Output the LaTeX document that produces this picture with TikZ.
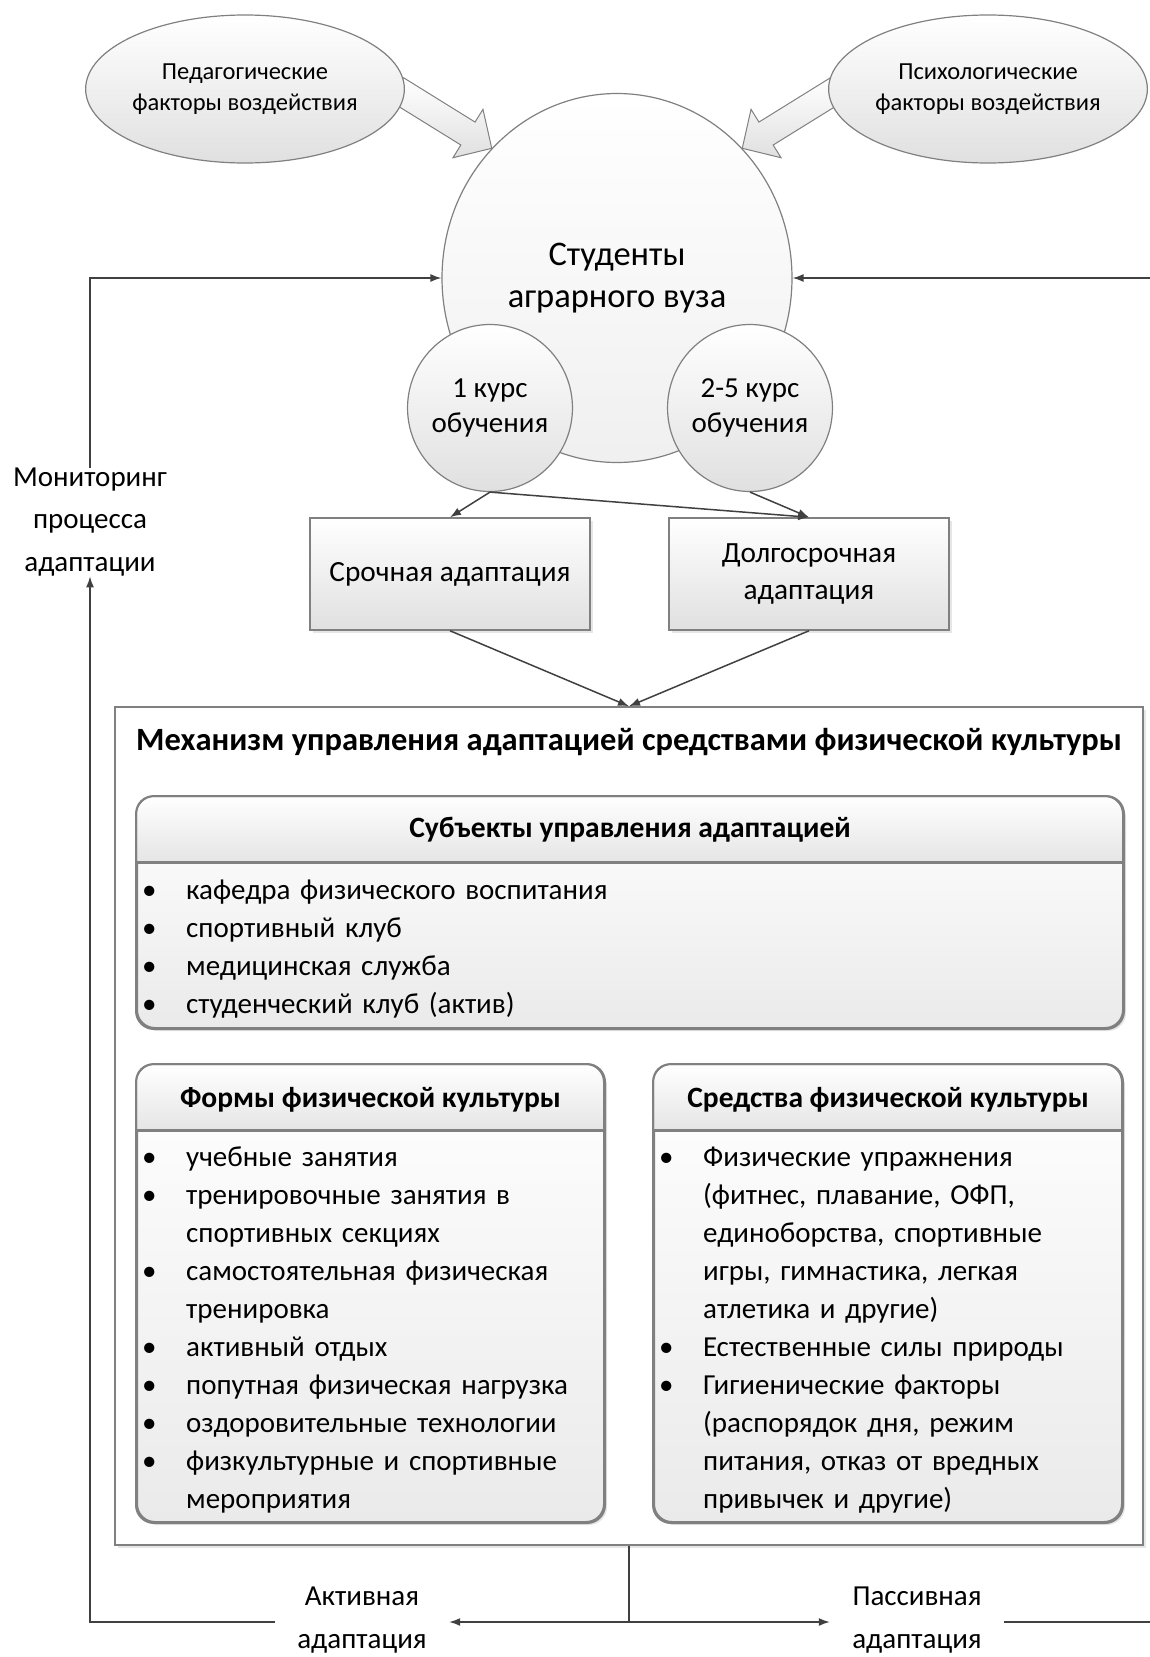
\documentclass[tikz,border=0pt]{standalone}
\usepackage{fontspec}
\setmainfont{Carlito}
\usepackage{tikz}
\tikzset{node distance=3cm and 5cm, auto}
\usetikzlibrary{arrows.meta,shapes,shadows,backgrounds}
\usepackage{xcolor}
\definecolor{linecol}{HTML}{404040}
\definecolor{framecol}{HTML}{808080}
\definecolor{lightcol}{HTML}{E0E0E0}
\definecolor{headcol}{HTML}{D6D6D6}
\definecolor{bodycol}{HTML}{EAEAEA}
\tikzset{
  softshadow/.style={drop shadow={opacity=0.2, shadow xshift=3pt, shadow yshift=-3pt}},
  oval/.style={ellipse, draw=framecol, line width=1.2pt, top color=white, bottom color=lightcol, align=center, inner sep=0pt},
  conn/.style={draw=linecol, line width=1.5pt},
  tip/.style={-{Latex[length=11pt,width=8pt]}},
  fatarrow/.style={draw=framecol, line width=1pt, top color=white, bottom color=lightcol},
  listbox/.style={rectangle, rounded corners=18pt, draw=framecol, line width=2pt, top color=white, bottom color=bodycol, softshadow, inner sep=0pt},
  listframe/.style={draw=framecol, line width=2pt, rounded corners=18pt},
  listtext/.style={anchor=north west, inner sep=0pt, text width=470pt, align=left, font=\fontsize{29}{38}\selectfont},
  caption/.style={font=\bfseries\fontsize{29.5}{37}\selectfont, inner sep=0pt},
  loosetext/.style={align=center, inner sep=0pt, font=\fontsize{29}{43}\selectfont}
}
\newcommand{\adoval}[3]{node[oval,#1](#2) {#3}}
\newcommand{\adbox}[2]{node[rectangle, draw=framecol, line width=1.5pt, top color=white, bottom color=lightcol, softshadow, minimum width=280pt, minimum height=112pt, align=center, font=\fontsize{29.3}{37}\selectfont](#1) {#2}}
\newcommand{\itm}[1]{\par\noindent\hangindent=44pt\hangafter=1\makebox[44pt][l]{\textbullet}\strut#1}

\begin{document}
\begin{tikzpicture}[x=1pt,y=-1pt]
\useasboundingbox (0,0) rectangle (1150,1657);

% factors and students
\draw (245,89) \adoval{minimum width=298pt, minimum height=148pt, font=\fontsize{24.5}{31}\selectfont}{pedag}{Педагогические\\факторы воздействия} ;
\draw (988,89) \adoval{minimum width=298pt, minimum height=148pt, font=\fontsize{24.5}{31}\selectfont}{psych}{Психологические\\факторы воздействия} ;
\draw (617,278) \adoval{minimum width=350pt, minimum height=369pt, bottom color=gray!12, font=\fontsize{34.5}{42}\selectfont}{stud}{Студенты\\аграрного вуза} ;
\draw (490,408) \adoval{minimum width=160pt, minimum height=167pt, font=\fontsize{29}{35}\selectfont}{first}{1 курс\\обучения} ;
\draw (750,408) \adoval{minimum width=160pt, minimum height=167pt, font=\fontsize{29}{35}\selectfont}{senior}{2-5 курс\\обучения} ;

\begin{scope}[on background layer]
\begin{scope}[shift={(stud.134)}, rotate=-31.8]
  \path[fatarrow] (0,0) -- (-28,-28.5) -- (-28,-13.5) -- (-112,-13.5) -- (-112,13.5) -- (-28,13.5) -- (-28,28.5) -- cycle;
\end{scope}
\begin{scope}[shift={(stud.46)}, rotate=-148.2]
  \path[fatarrow] (0,0) -- (-28,-28.5) -- (-28,-13.5) -- (-112,-13.5) -- (-112,13.5) -- (-28,13.5) -- (-28,28.5) -- cycle;
\end{scope}
\end{scope}

% kinds of adaptation
\draw (450,574) \adbox{urgent}{Срочная адаптация} ;
\draw (809,574) \adbox{longterm}{Долгосрочная\\адаптация} ;
\draw[conn,tip] (first.south) -- (urgent.north) ;
\draw[conn,tip] (first.south) -- (longterm.north) ;
\draw[conn,tip] (senior.south) -- (longterm.north) ;

% mechanism
\draw (629,1126) node[rectangle, draw=framecol, line width=1.5pt, fill=white, softshadow, minimum width=1028pt, minimum height=838pt](mech) {} ;
\draw[conn,tip] (urgent.south) -- (mech.north) ;
\draw[conn,tip] (longterm.south) -- (mech.north) ;
\draw (629,742) node[caption, font=\bfseries\fontsize{32.5}{37}\selectfont](mechtitle) {Механизм управления адаптацией средствами физической культуры} ;

% subjects
\draw (630,912.5) node[listbox, minimum width=986pt, minimum height=231pt](subj) {} ;
\begin{scope}
  \clip (137,797) rectangle (1123,862);
  \path[listframe, top color=white, bottom color=headcol] (subj.north west) rectangle (1123,900);
\end{scope}
\draw[listframe] (subj.north west) rectangle (subj.south east) ;
\draw[framecol, line width=3pt] (137,862) -- (1123,862) ;
\draw (630,830) node[caption](subjtitle) {Субъекты управления адаптацией} ;
\draw (142,861) node[listtext](subjlist) {\itm{кафедра физического воспитания}\itm{спортивный клуб}\itm{медицинская служба}\itm{студенческий клуб (актив)}\par} ;

% forms
\draw (370.5,1293.5) node[listbox, minimum width=467pt, minimum height=457pt](forms) {} ;
\begin{scope}
  \clip (137,1065) rectangle (604,1130);
  \path[listframe, top color=white, bottom color=headcol] (forms.north west) rectangle (604,1170);
\end{scope}
\draw[listframe] (forms.north west) rectangle (forms.south east) ;
\draw[framecol, line width=3pt] (137,1130) -- (604,1130) ;
\draw (370.5,1100) node[caption](formstitle) {Формы физической культуры} ;
\draw (142,1128) node[listtext](formslist) {\itm{учебные занятия}\itm{тренировочные занятия в\newline спортивных секциях}\itm{самостоятельная физическая\newline тренировка}\itm{активный отдых}\itm{попутная физическая нагрузка}\itm{оздоровительные технологии}\itm{физкультурные и спортивные\newline мероприятия}\par} ;

% means
\draw (888,1293.5) node[listbox, minimum width=468pt, minimum height=457pt](means) {} ;
\begin{scope}
  \clip (654,1065) rectangle (1122,1130);
  \path[listframe, top color=white, bottom color=headcol] (means.north west) rectangle (1122,1170);
\end{scope}
\draw[listframe] (means.north west) rectangle (means.south east) ;
\draw[framecol, line width=3pt] (654,1130) -- (1122,1130) ;
\draw (888,1100) node[caption](meanstitle) {Средства физической культуры} ;
\draw (659,1128) node[listtext](meanslist) {\itm{Физические упражнения\newline (фитнес, плавание, ОФП,\newline единоборства, спортивные\newline игры, гимнастика, легкая\newline атлетика и другие)}\itm{Естественные силы природы}\itm{Гигиенические факторы\newline (распорядок дня, режим\newline питания, отказ от вредных\newline привычек и другие)}\par} ;

% feedback loop
\coordinate (fork) at (629,1622) ;
\coordinate (rturn) at (1175,1622) ;
\draw (362,1620) node[loosetext, minimum width=174pt](active) {Активная\\адаптация} ;
\draw (917,1620) node[loosetext, minimum width=174pt](passive) {Пассивная\\адаптация} ;
\draw (90,522) node[loosetext, font=\fontsize{29}{42.5}\selectfont](monitor) {Мониторинг\\процесса\\адаптации} ;
\draw[conn] (mech.south) -- (fork) ;
\draw[conn,tip] (fork) -- (fork -| active.east) ;
\draw[conn,tip] (fork) -- (fork -| passive.west) ;
\draw[conn,tip] (fork -| active.west) -| (monitor.south) ;
\draw[conn,tip] (monitor.north) |- (stud.west) ;
\draw[conn,tip] (fork -| passive.east) -- (rturn) |- (stud.east) ;
\end{tikzpicture}
\end{document}
